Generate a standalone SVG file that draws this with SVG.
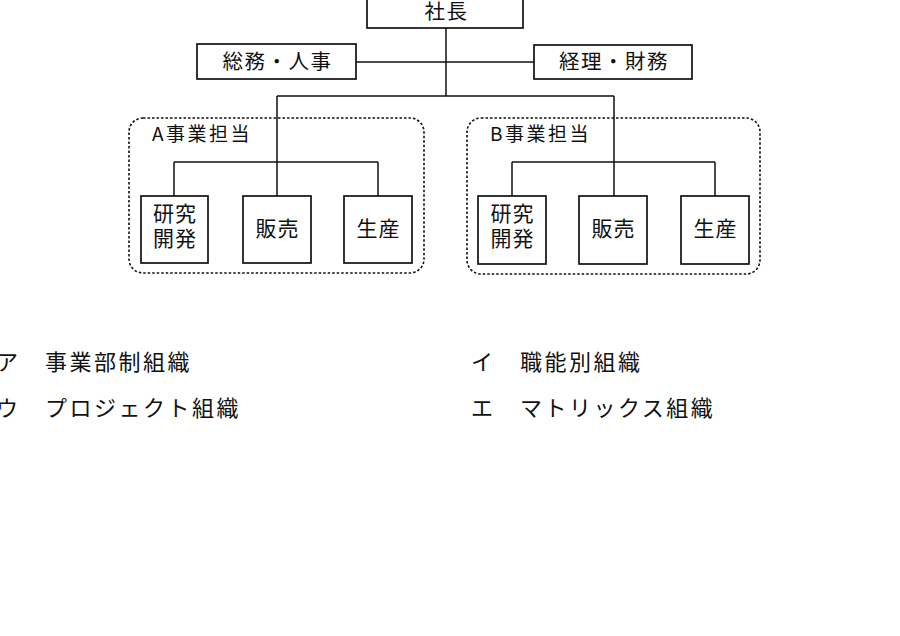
<svg xmlns="http://www.w3.org/2000/svg" width="900" height="636" viewBox="0 0 900 636">
<style>
.box{fill:#fff;stroke:#111;stroke-width:1.7}
.grp{fill:none;stroke:#111;stroke-width:1.6;stroke-dasharray:2.5 2}
.ln{fill:none;stroke:#111;stroke-width:1.5}
text{font-family:"Noto Sans CJK JP","Noto Sans",sans-serif;fill:#111}
.t{font-size:20.5px;letter-spacing:1.5px;text-anchor:middle}
.b{font-size:21px;letter-spacing:1px;text-anchor:middle}
.g{font-size:19px;letter-spacing:2.5px}
.o{font-size:22px;letter-spacing:2.5px}
</style>
<rect width="900" height="636" fill="#fff"/>
<g id="connectors">
<path class="ln" d="M446 28V96M356 62H534M277 96H614M277 96V196M174 162H378M174 162V196M378 162V196M614 96V196M512 162H715M512 162V196M715 162V196"/>
</g>
<g id="president"><rect class="box" x="367" y="-8" width="156" height="36"/><text class="t" x="446.5" y="19">社長</text></g>
<g id="soumu"><rect class="box" x="197" y="44" width="159" height="35"/><text class="t" x="277.5" y="69">総務・人事</text></g>
<g id="keiri"><rect class="box" x="534" y="45" width="158" height="34"/><text class="t" x="614" y="69">経理・財務</text></g>
<g id="groupA"><rect class="grp" x="129" y="118" width="295" height="155" rx="14"/><text class="g" x="152" y="141">A事業担当</text></g>
<g id="groupB"><rect class="grp" x="467" y="118" width="293" height="156" rx="14"/><text class="g" x="490" y="141">B事業担当</text></g>
<g id="a-rd"><rect class="box" x="141" y="196" width="67" height="67"/><text class="b" x="175" y="221">研究</text><text class="b" x="175" y="246">開発</text></g>
<g id="a-sales"><rect class="box" x="243" y="196" width="68" height="67"/><text class="b" x="277.5" y="236">販売</text></g>
<g id="a-prod"><rect class="box" x="344" y="196" width="68" height="67"/><text class="b" x="378.5" y="236">生産</text></g>
<g id="b-rd"><rect class="box" x="478" y="196" width="68" height="68"/><text class="b" x="512.5" y="221">研究</text><text class="b" x="512.5" y="246">開発</text></g>
<g id="b-sales"><rect class="box" x="579" y="196" width="68" height="68"/><text class="b" x="613.5" y="236">販売</text></g>
<g id="b-prod"><rect class="box" x="681" y="196" width="68" height="68"/><text class="b" x="715.5" y="236">生産</text></g>
<g id="choices">
<text class="o" x="-4" y="370">ア　事業部制組織</text>
<text class="o" x="471" y="370">イ　職能別組織</text>
<text class="o" x="-4" y="416">ウ　プロジェクト組織</text>
<text class="o" x="471" y="416">エ　マトリックス組織</text>
</g>
</svg>
